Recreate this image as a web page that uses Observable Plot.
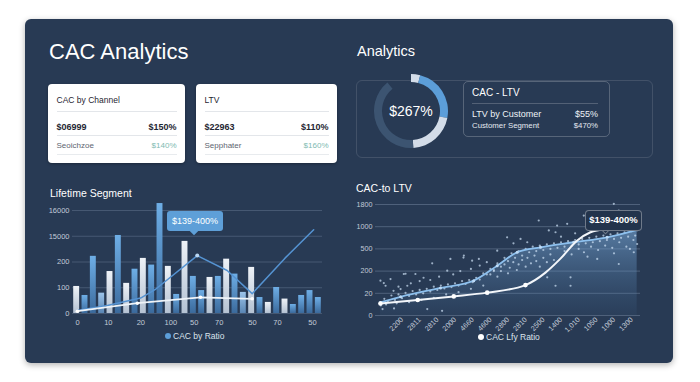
<!DOCTYPE html>
<html><head><meta charset="utf-8">
<script src="https://cdn.jsdelivr.net/npm/d3@7"></script>
<script src="https://cdn.jsdelivr.net/npm/@observablehq/plot@0.6"></script>
<style>
html,body{margin:0;padding:0;background:#fff;width:700px;height:382px;overflow:hidden;font-family:"Liberation Sans",Arial,sans-serif;}
#panel{position:absolute;left:25px;top:19px;width:648px;height:344px;background:#283a54;border-radius:6px;box-shadow:0 2px 6px rgba(0,0,0,0.3);}
.abs{position:absolute;white-space:nowrap;line-height:1;}
.card{position:absolute;background:#fff;border-radius:4px;box-shadow:0 1px 3px rgba(0,0,0,0.3);}
.hr{position:absolute;height:1px;}
.box{position:absolute;border-radius:6px;}
.chart{position:absolute;}
</style></head><body>
<svg width="0" height="0" style="position:absolute"><defs>
<linearGradient id="gBlue" x1="0" y1="0" x2="0" y2="1"><stop offset="0" stop-color="#6eaee6"/><stop offset="1" stop-color="#3b6a9c"/></linearGradient>
<linearGradient id="gLight" x1="0" y1="0" x2="0" y2="1"><stop offset="0" stop-color="#9cc4ea"/><stop offset="1" stop-color="#5a86b4"/></linearGradient>
<linearGradient id="gWhite" x1="0" y1="0" x2="0" y2="1"><stop offset="0" stop-color="#eef2f7"/><stop offset="1" stop-color="#b4c2d3"/></linearGradient>
<linearGradient id="gArea" x1="0" y1="0" x2="0" y2="1"><stop offset="0" stop-color="#7fb1e2" stop-opacity="0.55"/><stop offset="1" stop-color="#4a77a6" stop-opacity="0.08"/></linearGradient>
</defs></svg>
<div id="panel"></div>
<script>
// ---------------- data ----------------
const pageTitle = "CAC Analytics";
const sideTitle = "Analytics";
const card1Rows = ["CAC by Channel", "$06999", "$150%", "Seoichzoe", "$140%"];
const card2Rows = ["LTV", "$22963", "$110%", "Sepphater", "$160%"];
const donutValues = [4, 24, 21, 40, 11];
const donutKinds = ["light", "blue", "light", "dark", "gap"];
const donutLabel = "$267%";
const infoTitle = "CAC - LTV";
const infoLabels = ["LTV by Customer", "Customer Segment"];
const infoValues = ["$55%", "$470%"];

const leftTitle = "Lifetime Segment";
const leftYTicks = [0, 1, 2, 3, 4];
const leftYLabels = ["0", "100", "200", "15000", "16000"];
const leftXTicks = [0.6, 4.3, 8.2, 11.8, 14.6, 17.6, 21.6, 24.6, 28.8];
const leftXLabels = ["0", "10", "20", "100", "50", "70", "50", "70", "50"];
const barValues = [1.05,0.70,2.22,0.79,1.63,3.03,1.17,1.72,2.14,1.88,4.27,1.83,0.74,2.80,1.44,0.89,1.40,1.44,2.11,1.53,0.82,1.79,0.62,0.43,1.01,0.56,0.35,0.70,0.89,0.62];
const barKinds = ["w","b","b","l","w","b","w","b","w","b","b","w","b","w","b","b","w","b","w","b","l","w","b","w","b","w","b","b","b","b"];
const leftBlueX = [0.59, 4.18, 8.17, 10.0, 14.97, 18.56, 21.56, 25.5, 28.94];
const leftBlueY = [0.12, 0.31, 0.60, 0.95, 2.25, 1.67, 0.77, 2.15, 3.25];
const leftBluePeak = 4;
const leftWhiteX = [0.59, 7.78, 15.36, 21.56];
const leftWhiteY = [0.09, 0.40, 0.63, 0.57];
const leftTip = "$139-400%";
const leftLegend = "CAC by Ratio";

const rightTitle = "CAC-to LTV";
const rightYTicks = [0, 1, 2, 3, 4, 5];
const rightYLabels = ["0", "20", "200", "500", "1000", "1800"];
const rightXTicks = [0,1,2,3,4,5,6,7,8,9,10,11,12,13];
const rightXLabels = ["2200","2811","2810","2000","4660","4600","2800","2810","2500","1400","1,010","1050","1000","1300"];
const rightBlueX = [-1.22, -0.08, 2.18, 4.06, 5.39, 6.52, 7.84, 9.72, 11.61, 13.31];
const rightBlueY = [0.59, 0.84, 1.24, 1.57, 2.24, 2.85, 3.07, 3.30, 3.52, 3.86];
const rightWhiteX = [-1.22, 0.89, 2.93, 4.82, 6.99, 8.12, 8.97, 9.92, 10.67, 11.52];
const rightWhiteY = [0.54, 0.70, 0.86, 1.03, 1.37, 1.93, 2.56, 3.38, 3.75, 3.90];
const scatterX = [-1.22,-0.93,-0.48,0.2,1.22,1.71,2.56,3.48,3.97,5.39,5.95,6.31,7.09,7.74,8.31,8.78,9.35,8.22,8.69,9.54,9.54,11.99,12.27,11.05,13.12,13.31,
 -1.1,-0.45,1.43,2.27,-0.08,0.3,0.76,2.74,3.5,4.35,-1.03,-0.65,0.1,
 -1.0,-0.8,-0.6,-0.4,-0.2,0.0,0.2,0.4,0.6,0.8,1.0,1.2,1.4,1.6,1.8,2.0,2.2,2.4,2.6,2.8,3.0,3.2,3.4,3.6,3.8,4.0,4.2,4.4,4.6,4.8,5.0,5.2,5.4,5.6,5.8,6.0,6.2,6.4,6.6,6.8,7.0,7.2,7.4,7.6,7.8,8.0,8.2,8.4,8.6,8.8,9.0,9.2,9.4,9.6,9.8,10.0,10.2,10.4,10.6,10.8,11.0,11.2,11.4,11.6,11.8,12.0,12.2,12.4,12.6,12.8,13.0,13.2,
 5.0,5.2,5.4,5.6,5.8,6.0,6.1,6.3,6.5,6.6,6.8,7.0,7.1,7.3,7.5,7.6,7.8,8.0,8.2,8.4,8.6,
 9.2,9.6,10.0,10.3,10.7,11.1,11.5,11.9,12.3,12.7,13.1,10.5,12.0,12.9,
 9.0,9.8,10.6,11.3,12.1,12.8,13.2,10.29,12.27,8.69,6.71,
 -0.2,0.5,1.0,1.6,2.1,2.9,3.3,3.9,4.4,4.8,
 -0.9,-0.3,0.4,1.1,1.8,2.5,3.2,3.9,4.6,-1.2];
const scatterY = [1.57,1.34,1.11,1.88,1.70,2.35,2.02,2.61,2.47,2.92,3.52,3.25,3.30,4.28,3.83,4.05,4.13,1.72,1.34,1.34,1.72,5.03,2.32,2.55,2.85,3.22,
 0.29,0.32,0.29,0.21,1.19,1.34,1.87,2.55,2.70,2.55,1.46,1.64,1.87,
 0.75,0.62,0.9,0.7,0.95,0.78,1.02,0.88,1.1,0.95,1.15,1.0,1.2,1.08,1.3,1.15,1.35,1.22,1.4,1.28,1.45,1.35,1.55,1.42,1.6,1.5,1.7,1.62,1.9,1.85,2.1,2.0,2.35,2.2,2.6,2.45,2.8,2.6,2.9,2.7,3.0,2.85,3.1,2.9,3.15,2.95,3.2,3.0,3.25,3.05,3.3,3.1,3.35,3.15,3.4,3.2,3.45,3.25,3.5,3.3,3.55,3.35,3.6,3.4,3.65,3.45,3.7,3.5,3.75,3.55,3.8,3.6,
 1.85,2.05,1.75,2.0,2.3,1.9,2.15,2.4,2.05,2.3,2.5,2.2,2.6,2.35,2.7,2.45,2.2,2.6,2.4,2.75,2.5,
 2.9,2.75,3.0,2.85,3.1,2.95,3.15,3.05,3.3,3.1,3.4,2.65,2.8,3.0,
 3.55,3.7,3.85,3.95,3.95,4.05,4.0,4.50,4.73,3.75,3.45,
 1.3,1.45,1.55,1.6,1.75,1.85,2.0,2.1,2.25,2.4,
 0.5,0.55,0.6,0.7,0.8,0.95,1.05,1.2,1.35,0.45];
const rightTip = "$139-400%";
const rightLegend = "CAC Lfy Ratio";

// ---------------- helpers ----------------
function T(s, x, yc, size, color, o = {}) {
  const d = document.createElement("div");
  d.className = "abs";
  d.textContent = s;
  d.style.fontSize = size + "px";
  d.style.color = color;
  d.style.top = (yc - size * 0.5) + "px";
  if (o.right) d.style.right = (700 - x) + "px"; else d.style.left = x + "px";
  if (o.weight) d.style.fontWeight = o.weight;
  if (o.family) d.style.fontFamily = o.family;
  document.body.appendChild(d);
  return d;
}
function box(cls, x, y, w, h, css) {
  const d = document.createElement("div");
  d.className = cls;
  Object.assign(d.style, {left: x + "px", top: y + "px", width: w + "px", height: h + "px"}, css || {});
  document.body.appendChild(d);
  return d;
}

// ---------------- header ----------------
T(pageTitle, 49, 51.5, 22, "#ffffff");
T(sideTitle, 357, 51.5, 14.5, "#ffffff");

// cards
function card(x, w, rows) {
  box("card", x, 84, w, 79);
  const l = x + 8.5, r = x + w - 8.5;
  T(rows[0], l, 100.5, 8.5, "#1f2632", {weight: 500});
  box("hr", l, 110.5, r - l, 1, {background: "#e3e6ea"});
  T(rows[1], l, 127, 9, "#1f2632", {weight: 600});
  T(rows[2], r, 127, 9, "#1f2632", {right: true, weight: 600});
  box("hr", l, 135, r - l, 1, {background: "#e3e6ea"});
  T(rows[3], l, 145.5, 8, "#5d6570");
  T(rows[4], r, 145.5, 8, "#80bab2", {right: true});
  box("hr", l, 153.5, r - l, 1, {background: "#e8ebee"});
}
card(48, 137, card1Rows);
card(196, 141, card2Rows);

// analytics boxes
box("box", 356, 80, 295, 76, {border: "1px solid rgba(255,255,255,0.12)"});
box("box", 463, 81, 145, 54, {border: "1px solid rgba(255,255,255,0.22)", borderRadius: "5px"});
T(infoTitle, 472, 93, 10, "#ffffff");
box("hr", 472, 102.5, 126, 1, {background: "rgba(255,255,255,0.2)"});
T(infoLabels[0], 472, 114.5, 9, "#eef2f7");
T(infoValues[0], 598, 114.5, 9, "#eef2f7", {right: true});
T(infoLabels[1], 472, 125.5, 7.8, "#e4e9f0");
T(infoValues[1], 598, 125.5, 7.8, "#e4e9f0", {right: true});

// donut
{
  const size = 80, cx = 40;
  const colors = {light: "#d3dce8", blue: "#5c9ed9", dark: "#3c5471", gap: "none"};
  const svg = d3.create("svg").attr("width", size).attr("height", size)
    .style("position", "absolute").style("left", "371px").style("top", "71px");
  const pie = d3.pie().sort(null).value(d => d.v);
  const arc = d3.arc().innerRadius(29).outerRadius(37);
  const dd = donutValues.map((v, i) => ({v, k: donutKinds[i]}));
  svg.append("g").attr("transform", `translate(${cx},${cx})`)
    .selectAll("path").data(pie(dd)).join("path")
    .attr("d", arc).attr("fill", d => colors[d.data.k]);
  document.body.appendChild(svg.node());
  const t = T(donutLabel, 371, 111, 14, "#ffffff", {weight: 500});
  t.style.width = size + "px"; t.style.textAlign = "center";
}

// ---------------- left chart ----------------
T(leftTitle, 50, 193, 10.5, "#ffffff", {weight: 500});
const bars = barValues.map((v, i) => ({i, v, k: barKinds[i]}));
const lb = leftBlueX.map((x, i) => ({x, y: leftBlueY[i]}));
const lw = leftWhiteX.map((x, i) => ({x, y: leftWhiteY[i]}));
const barMark = (k, fill) => Plot.rect(bars.filter(d => d.k === k), {
  x1: "i", x2: d => d.i + 1, y1: 0, y2: "v", insetLeft: 1.2, insetRight: 1.2, fill});
const left = Plot.plot({
  width: 310, height: 130,
  marginLeft: 42, marginRight: 18, marginTop: 10, marginBottom: 17,
  style: {background: "transparent", color: "#c2cbd8", fontSize: "7.5px", fontFamily: "Liberation Sans, Arial, sans-serif"},
  x: {domain: [0, 30], ticks: leftXTicks, tickFormat: d => leftXLabels[leftXTicks.indexOf(d)], tickSize: 0, tickPadding: 6, label: null},
  y: {domain: [0, 4], ticks: leftYTicks, tickFormat: d => leftYLabels[leftYTicks.indexOf(d)], tickSize: 0, tickPadding: 3, label: null},
  marks: [
    Plot.ruleY(leftYTicks, {stroke: "#7f93ad", strokeOpacity: 0.35}),
    barMark("b", "url(#gBlue)"),
    barMark("l", "url(#gLight)"),
    barMark("w", "url(#gWhite)"),
    Plot.line(lb, {x: "x", y: "y", stroke: "#5593d2", strokeWidth: 1.5}),
    Plot.dot([lb[leftBluePeak]], {x: "x", y: "y", r: 2, fill: "#b9d6f2"}),
    Plot.line(lw, {x: "x", y: "y", stroke: "#eef3f8", strokeWidth: 1.8}),
    Plot.dot(lw, {x: "x", y: "y", r: 1.8, fill: "#ffffff"})
  ]
});
left.classList.add("chart");
left.style.left = "30px"; left.style.top = "200px";
document.body.appendChild(left);

// left tooltip
box("box", 167, 211, 56, 20, {background: "#5e9fd8", borderRadius: "3px"});
box("box", 191, 228, 6, 6, {background: "#5e9fd8", borderRadius: "0", transform: "rotate(45deg)"});
{ const t = T(leftTip, 167, 221, 9, "#ffffff"); t.style.width = "56px"; t.style.textAlign = "center"; }
// left legend
box("box", 165, 333, 6, 6, {background: "#5c9ed9", borderRadius: "50%"});
T(leftLegend, 173, 336, 8.5, "#dbe3ec");

// ---------------- right chart ----------------
T(rightTitle, 356, 188, 10.5, "#ffffff", {weight: 500});
const rb = rightBlueX.map((x, i) => ({x, y: rightBlueY[i]}));
const rw = rightWhiteX.map((x, i) => ({x, y: rightWhiteY[i]}));
const sc = scatterX.map((x, i) => ({x, y: scatterY[i]}));
const right = Plot.plot({
  width: 310, height: 150,
  marginLeft: 30, marginRight: 15, marginTop: 9, marginBottom: 30,
  style: {background: "transparent", color: "#c2cbd8", fontSize: "7.2px", fontFamily: "Liberation Sans, Arial, sans-serif"},
  x: {domain: [-1.5, 13.5], ticks: rightXTicks, tickFormat: d => rightXLabels[rightXTicks.indexOf(d)], tickSize: 0, tickPadding: 3, tickRotate: -45, label: null},
  y: {domain: [0, 5], ticks: rightYTicks, tickFormat: d => rightYLabels[rightYTicks.indexOf(d)], tickSize: 0, tickPadding: 3, label: null},
  marks: [
    Plot.ruleY(rightYTicks, {stroke: "#8a9db6", strokeOpacity: 0.4}),
    Plot.areaY(rb, {x: "x", y: "y", curve: "monotone-x", fill: "url(#gArea)"}),
    Plot.dot(sc, {x: "x", y: "y", r: 1.1, fill: "#cfe3f7", fillOpacity: 0.7}),
    Plot.line(rb, {x: "x", y: "y", curve: "monotone-x", stroke: "#8dc0ee", strokeWidth: 1.8}),
    Plot.dot(rb, {x: "x", y: "y", r: 1.5, fill: "#bcdaf6"}),
    Plot.line(rw, {x: "x", y: "y", curve: "monotone-x", stroke: "#f3f6fa", strokeWidth: 2}),
    Plot.dot(rw.slice(0, 5), {x: "x", y: "y", r: 2.3, fill: "#ffffff"})
  ]
});
right.classList.add("chart");
right.style.left = "345px"; right.style.top = "195px";
document.body.appendChild(right);

// right tooltip
box("box", 602, 226, 6, 6, {background: "#23344c", borderRadius: "0", transform: "rotate(45deg)", borderRight: "1px solid rgba(255,255,255,0.35)", borderBottom: "1px solid rgba(255,255,255,0.35)"});
box("box", 585, 210, 55, 19, {background: "#23344c", border: "1px solid rgba(255,255,255,0.35)", borderRadius: "4px"});
{ const t = T(rightTip, 586, 220, 9.5, "#ffffff", {weight: 600}); t.style.width = "55px"; t.style.textAlign = "center"; }
// right legend
box("box", 478, 334, 6, 6, {background: "#ffffff", borderRadius: "50%"});
T(rightLegend, 486, 337, 8.5, "#dbe3ec");
</script>
</body></html>
